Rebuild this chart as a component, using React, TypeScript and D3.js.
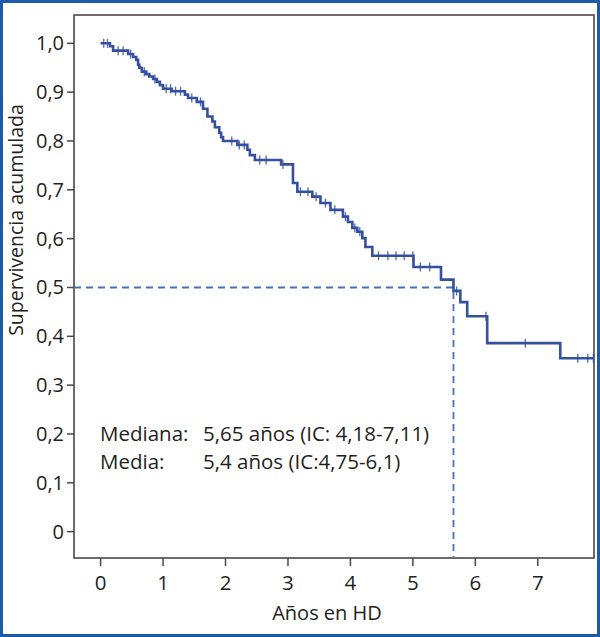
import * as d3 from "d3";

// Kaplan-Meier: tiempos de evento (años) y supervivencia tras cada caída
const eventTimes = [
  0.15, 0.2, 0.44, 0.52, 0.57, 0.6, 0.62, 0.66, 0.73, 0.78, 0.84, 0.9, 0.95, 1.0,
  1.14, 1.35, 1.4, 1.54, 1.64, 1.71, 1.79, 1.83, 1.9, 1.93, 1.96, 2.19, 2.35, 2.39,
  2.47, 2.89, 3.08, 3.15, 3.39, 3.52, 3.68, 3.88, 3.96, 4.03, 4.11, 4.19, 4.24, 4.35,
  5.01, 5.45, 5.65, 5.76, 5.87, 6.19, 7.36,
];
const survival = [
  0.994, 0.985, 0.978, 0.972, 0.966, 0.956, 0.95, 0.942, 0.937, 0.932, 0.927, 0.921,
  0.914, 0.907, 0.902, 0.895, 0.888, 0.88, 0.866, 0.85, 0.84, 0.828, 0.817, 0.808,
  0.8, 0.792, 0.782, 0.771, 0.761, 0.752, 0.714, 0.696, 0.686, 0.673, 0.659, 0.645,
  0.634, 0.622, 0.614, 0.601, 0.583, 0.565, 0.542, 0.516, 0.493, 0.47, 0.441, 0.386,
  0.355,
];
const censorTimes = [
  0.05, 0.11, 0.28, 0.36, 0.48, 0.7, 0.87, 1.05, 1.12, 1.2, 1.28, 1.46, 1.6, 2.1,
  2.22, 2.3, 2.55, 2.65, 2.92, 3.2, 3.32, 3.45, 3.6, 3.75, 3.92, 4.07, 4.15, 4.45,
  4.6, 4.73, 4.86, 5.0, 5.12, 5.27, 5.7, 6.17, 6.8, 7.64, 7.8, 7.89,
];
const lastFollowUp = 7.89;
const medianTime = 5.65;
const medianS = 0.5;

const xTicks = [0, 1, 2, 3, 4, 5, 6, 7];
const yTicks = [0, 0.1, 0.2, 0.3, 0.4, 0.5, 0.6, 0.7, 0.8, 0.9, 1.0];
const yTickLabels = ["0", "0,1", "0,2", "0,3", "0,4", "0,5", "0,6", "0,7", "0,8", "0,9", "1,0"];
const xDomain: [number, number] = [-0.426, 7.9];
const yDomain: [number, number] = [-0.054, 1.058];

const statLabels = ["Mediana:", "Media:"];
const statValues = ["5,65 años (IC: 4,18-7,11)", "5,4 años (IC:4,75-6,1)"];

const W = 600;
const H = 637;
const FONT = "'Open Sans', 'Noto Sans', sans-serif";
const CURVE = "#34509f";
const DASH = "#4174bf";
const AXIS = "#4d4646";
const TEXT = "#231f20";

export default function App() {
  const plot = { left: 74, top: 15, right: 594, bottom: 558 };
  const x = d3.scaleLinear().domain(xDomain).range([plot.left, plot.right]);
  const y = d3.scaleLinear().domain(yDomain).range([plot.bottom, plot.top]);

  const pts: [number, number][] = [[0, 1]];
  eventTimes.forEach((t, i) => pts.push([t, survival[i]]));
  pts.push([lastFollowUp, survival[survival.length - 1]]);

  const line = d3
    .line<[number, number]>()
    .x((d) => x(d[0]))
    .y((d) => y(d[1]))
    .curve(d3.curveStepAfter);

  const sAt = (t: number) => {
    const i = d3.bisectRight(eventTimes, t);
    return i === 0 ? 1 : survival[i - 1];
  };

  return (
    <svg
      width={W}
      height={H}
      style={{ position: "absolute", left: 0, top: 0, background: "#fff" }}
      fontFamily={FONT}
    >
      <rect x={1.5} y={1.5} width={W - 3} height={H - 3} fill="#fff" stroke="#1d5aa8" strokeWidth={3} />

      {/* marco */}
      <rect
        x={plot.left}
        y={plot.top}
        width={plot.right - plot.left}
        height={plot.bottom - plot.top}
        fill="none"
        stroke={AXIS}
        strokeWidth={1.6}
      />

      {/* eje Y */}
      {yTicks.map((v, i) => (
        <g key={"y" + i} transform={`translate(${plot.left},${y(v)})`}>
          <line x1={-7} x2={0} stroke={AXIS} strokeWidth={1.5} />
          <text x={-10} dy="0.35em" textAnchor="end" fontSize={20} fill={TEXT}>
            {yTickLabels[i]}
          </text>
        </g>
      ))}

      {/* eje X */}
      {xTicks.map((v) => (
        <g key={"x" + v} transform={`translate(${x(v)},${plot.bottom})`}>
          <line y1={0} y2={8} stroke={AXIS} strokeWidth={1.5} />
          <text y={32} textAnchor="middle" fontSize={20.5} fill={TEXT}>
            {v}
          </text>
        </g>
      ))}

      <text x={327} y={620} textAnchor="middle" fontSize={20} fill={TEXT}>
        Años en HD
      </text>
      <text
        transform={`translate(23,220) rotate(-90)`}
        textAnchor="middle"
        fontSize={19.5}
        fill={TEXT}
      >
        Supervivencia acumulada
      </text>

      {/* mediana */}
      <path
        d={`M${plot.left},${y(medianS)}H${x(medianTime)}V${plot.bottom}`}
        fill="none"
        stroke={DASH}
        strokeWidth={1.8}
        strokeDasharray="7,5"
      />

      {/* curva */}
      <path d={line(pts) ?? ""} fill="none" stroke={CURVE} strokeWidth={2.6} />
      {censorTimes.map((t, i) => (
        <line
          key={"c" + i}
          x1={x(t)}
          x2={x(t)}
          y1={y(sAt(t)) - 4.5}
          y2={y(sAt(t)) + 4.5}
          stroke={CURVE}
          strokeWidth={1.3}
          opacity={0.85}
        />
      ))}

      {/* estadísticos */}
      {statLabels.map((lab, i) => (
        <g key={"s" + i} fontSize={20.5} fill={TEXT}>
          <text x={100} y={441 + i * 28}>
            {lab}
          </text>
          <text x={203} y={441 + i * 28}>
            {statValues[i]}
          </text>
        </g>
      ))}
    </svg>
  );
}
